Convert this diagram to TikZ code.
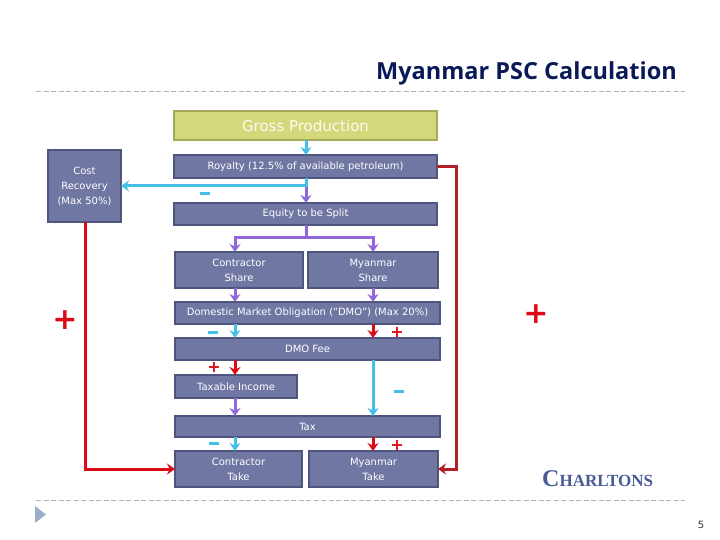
\documentclass[tikz,border=0pt]{standalone}
\usepackage{fontspec}
\setmainfont{Liberation Serif}
\setsansfont{DejaVu Sans}
\newfontfamily\titlefont{Open Sans}
\usepackage{tikz}
\usetikzlibrary{arrows.meta,positioning,calc}
\definecolor{cBox}{HTML}{7077A3}
\definecolor{cBoxB}{HTML}{4E5680}
\definecolor{cGross}{HTML}{D3D87A}
\definecolor{cGrossB}{HTML}{A6A85C}
\definecolor{cCyan}{HTML}{45BFE8}
\definecolor{cViolet}{HTML}{9068DC}
\definecolor{cRed}{HTML}{DC0A14}
\definecolor{cDark}{HTML}{B01E26}
\definecolor{cTitle}{HTML}{0A1A58}
\definecolor{cDash}{HTML}{A9B4BE}
\definecolor{cMark}{HTML}{9AAEC8}
\definecolor{cLogo}{HTML}{4A5A96}
\tikzset{
  vbox/.style={draw=cBoxB, fill=cBox, line width=1.8pt, outer sep=0pt, inner sep=1pt, align=center,
               text=white, font=\sffamily\fontsize{10}{15}\selectfont, minimum height=#1},
  carr/.style={-{Stealth[length=8pt,width=11pt]}, line width=3pt, draw=cCyan},
  parr/.style={-{Stealth[length=8pt,width=11pt]}, line width=3pt, draw=cViolet},
  rarr/.style={-{Stealth[length=8pt,width=11pt]}, line width=3pt, draw=cRed},
  minus/.style={font=\sffamily\bfseries\fontsize{16}{16}\selectfont, text=cCyan, inner sep=0pt},
  plus/.style={font=\sffamily\bfseries\fontsize{#1}{#1}\selectfont, text=cRed, inner sep=0pt},
  rule/.style={draw=cDash, line width=0.8pt, dash pattern=on 5pt off 2.5pt},
}
\begin{document}
\begin{tikzpicture}[x=1pt,y=1pt]
\useasboundingbox (0,0) rectangle (720,-540);
\def\fw{263pt}
\def\rw{265pt}
\node[anchor=base east, font=\titlefont\fontsize{23.5}{26}\selectfont\bfseries, text=cTitle, inner sep=0pt] (title) at (677,-80) {Myanmar PSC Calculation};
\coordinate (ruleL) at (36,-91);
\coordinate (ruleR) at (685,-91);
\draw[rule] (ruleL) -- (ruleR);

\node[vbox=29pt, draw=cGrossB, fill=cGross, minimum width=\fw, anchor=north west, text=white!92!cGross, font=\sffamily\fontsize{15}{15}\selectfont] (gross) at (174,-111) {Gross Production};
\node[vbox=23pt, minimum width=\fw, below right=15pt and 0pt of gross.south west] (royalty) {Royalty (12.5\% of available petroleum)};
\node[vbox=72pt, minimum width=73pt, anchor=north west] (cost) at (48,-150) {Cost\\Recovery\\(Max 50\%)};
\node[vbox=22pt, minimum width=\fw, below right=25pt and 0pt of royalty.south west] (equity) {Equity to be Split};
\node[vbox=36pt, minimum width=128pt, anchor=north west] (cshare) at (175,-252) {Contractor\\Share};
\node[vbox=36pt, minimum width=130pt, right=5pt of cshare] (mshare) {Myanmar\\Share};
\node[vbox=22pt, minimum width=\rw, below right=14pt and 0pt of cshare.south west] (dmo) {Domestic Market Obligation (“DMO”) (Max 20\%)};
\node[vbox=22pt, minimum width=\rw, below right=14pt and 0pt of dmo.south west] (fee) {DMO Fee};
\node[vbox=23pt, minimum width=122pt, below right=15pt and 0pt of fee.south west] (taxable) {Taxable Income};
\node[vbox=21pt, minimum width=\rw, below right=18pt and 0pt of taxable.south west] (tax) {Tax};
\node[vbox=36pt, minimum width=127pt, below right=14pt and 0pt of tax.south west] (ctake) {Contractor\\Take};
\node[vbox=36pt, minimum width=129pt, right=7pt of ctake] (mtake) {Myanmar\\Take};

\coordinate (lx) at (235,0);
\coordinate (mx) at (306,0);
\coordinate (rx) at (373,0);
\coordinate (cx) at (85,0);
\coordinate (ex) at (456,0);
\coordinate (branch) at (mx |- cost.east);

\draw[carr] (mx |- gross.south) -- (mx |- royalty.north);
\draw[parr] (branch) -- (mx |- equity.north);
\draw[carr] (mx |- royalty.south) -- (branch) -- (branch -| cost.east);
\coordinate (split) at (mx |- 0,-237);
\draw[parr, -] (mx |- equity.south) -- (split);
\draw[parr] (split) -- (split -| lx) -- (lx |- cshare.north);
\draw[parr] (split) -- (split -| rx) -- (rx |- mshare.north);
\draw[parr] (lx |- cshare.south) -- (lx |- dmo.north);
\draw[parr] (rx |- mshare.south) -- (rx |- dmo.north);
\draw[carr] (lx |- dmo.south) -- (lx |- fee.north);
\draw[rarr] (rx |- dmo.south) -- (rx |- fee.north);
\draw[rarr] (lx |- fee.south) -- (lx |- taxable.north);
\draw[carr] (rx |- fee.south) -- (rx |- tax.north);
\draw[parr] (lx |- taxable.south) -- (lx |- tax.north);
\draw[carr] (lx |- tax.south) -- (lx |- ctake.north);
\draw[rarr] (rx |- tax.south) -- (rx |- mtake.north);
\draw[rarr] (cx |- cost.south) -- (cx |- ctake.west) -- (ctake.west);
\draw[rarr, draw=cDark, -{Stealth[length=8pt,width=11pt,fill=cRed]}] (royalty.east) -- (ex |- royalty.east) -- (ex |- mtake.east) -- (mtake.east);

\node[minus] (m1) at (205,-193) {\rule{10pt}{3pt}};
\node[minus] (m2) at (213,-332) {\rule{10pt}{3pt}};
\node[minus] (m3) at (399,-391) {\rule{10pt}{3pt}};
\node[minus] (m4) at (214,-443) {\rule{10pt}{3pt}};
\node[plus=30] (p1) at (65,-320) {+};
\node[plus=30] (p2) at (536,-314) {+};
\node[plus=16] (p3) at (397,-332) {+};
\node[plus=16] (p4) at (214,-367) {+};
\node[plus=16] (p5) at (397,-445) {+};

\node[anchor=base west, text=cLogo, inner sep=0pt, font=\rmfamily\bfseries] (logo) at (542,-486) {\fontsize{24}{24}\selectfont C\fontsize{17}{17}\selectfont HARLTONS};
\coordinate (footL) at (36,-500);
\coordinate (footR) at (685,-500);
\draw[rule] (footL) -- (footR);
\fill[cMark] (35,-506) -- (46,-514.5) -- (35,-523) -- cycle;
\node[font=\sffamily\fontsize{10}{11}\selectfont, text=black!80, inner sep=0pt] (page) at (701,-525) {5};
\end{tikzpicture}
\end{document}
